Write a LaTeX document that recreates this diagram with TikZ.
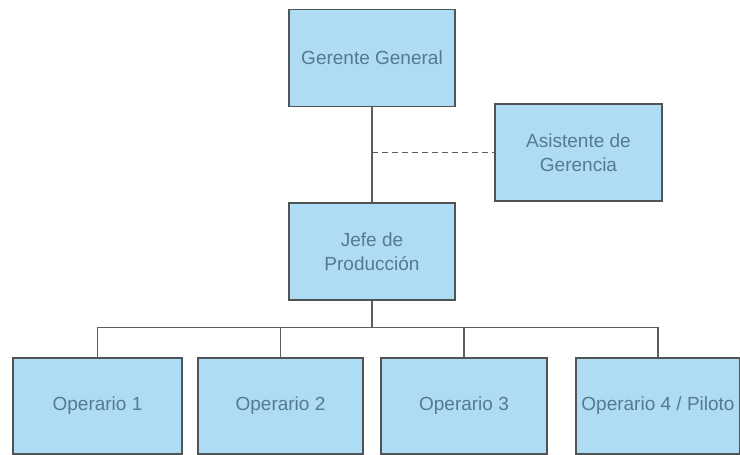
\documentclass[tikz,border=0pt]{standalone}
\usepackage{fontspec}
\setmainfont{Liberation Sans}
\definecolor{boxfill}{HTML}{AEDCF5}
\definecolor{boxline}{HTML}{4F5455}
\definecolor{boxtext}{HTML}{557A90}
\definecolor{conn}{HTML}{5A5E60}
\begin{document}
\begin{tikzpicture}[x=1pt,y=-1pt,
  orgbox/.style={draw=boxline,fill=boxfill,line width=1.3pt,minimum width=#1,minimum height=97pt,
    inner sep=0pt,align=center,text=boxtext,font=\fontsize{19}{24}\selectfont},
  orgbox/.default=166pt,
  link/.style={draw=conn,line width=1.1pt}]
\fill[white] (0,0) rectangle (740,455);
\useasboundingbox (0,0) rectangle (740,455);
\node[orgbox] (gg) at (372,58) {Gerente General};
\node[orgbox=167pt] (as) at (578.5,152.5) {Asistente de\\Gerencia};
\node[orgbox] (jp) at (372,251.5) {Jefe de\\Producción};
\node[orgbox=169pt,minimum height=96pt] (op1) at (97.5,406) {Operario 1};
\node[orgbox=165pt,minimum height=96pt] (op2) at (280.5,406) {Operario 2};
\node[orgbox=166pt,minimum height=96pt] (op3) at (464,406) {Operario 3};
\node[orgbox=164pt,minimum height=96pt] (op4) at (658,406) {Operario 4 / Piloto};
\draw[link] (gg.south) -- (jp.north);
\draw[link,dashed,dash pattern=on 6pt off 4pt] (gg.south |- as.west) -- (as.west);
\draw[link] (jp.south) -- ++(0,27) coordinate (bus);
\draw[link] (op1.north) |- (bus) -| (op4.north);
\draw[link] (op2.north) -- (op2.north |- bus);
\draw[link] (op3.north) -- (op3.north |- bus);
\end{tikzpicture}
\end{document}
